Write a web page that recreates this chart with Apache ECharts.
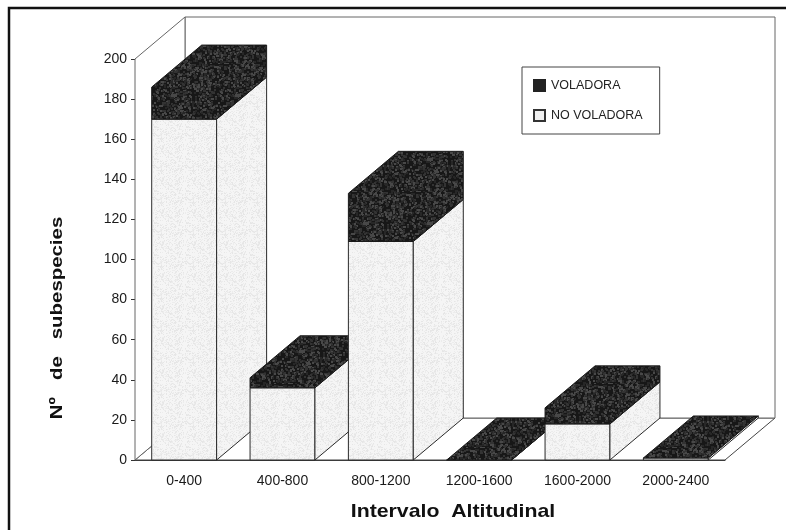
<!DOCTYPE html>
<html>
<head>
<meta charset="utf-8">
<title>Subespecies por intervalo altitudinal</title>
<script src="https://cdn.jsdelivr.net/npm/echarts@6/dist/echarts.min.js"></script>
<style>
  html, body { margin: 0; padding: 0; background: #fff; }
  #main { width: 786px; height: 530px; filter: blur(0.5px); }
</style>
</head>
<body>
<div id="main"></div>
<script>
var categories = ['0-400', '400-800', '800-1200', '1200-1600', '1600-2000', '2000-2400'];
var noVoladora = [170, 36, 109, 0, 18, 1];
var voladora = [16, 5, 24, 0, 8, 0];

// proyeccion de la profundidad, en pixeles
var depthX = 50;
var depthY = -42;
var barRatio = 0.66;

// tramas para imitar el papel escaneado
function makeTexture(size, base, spots, step, dot) {
  var c = document.createElement('canvas');
  c.width = c.height = size;
  var ctx = c.getContext('2d');
  ctx.fillStyle = base;
  ctx.fillRect(0, 0, size, size);
  for (var y = 0; y < size; y++) {
    for (var x = 0; x < size; x++) {
      var h = Math.abs(Math.sin(x * 12.9898 + y * 78.233) * 43758.5453) % 1;
      if (h < step) {
        ctx.fillStyle = spots[Math.floor(h / step * spots.length)];
        ctx.fillRect(x, y, dot, dot);
      }
    }
  }
  return c;
}
var darkFill = { image: makeTexture(64, '#171717', ['#333333', '#484848', '#272727'], 0.2, 2), repeat: 'repeat' };
var lightFill = { image: makeTexture(32, '#f5f5f5', ['#ececec', '#e6e6e6'], 0.35, 1), repeat: 'repeat' };

function poly(points, fill, stroke, z2) {
  return {
    type: 'polygon',
    z2: z2,
    shape: { points: points },
    style: { fill: fill, stroke: stroke, lineWidth: 1 }
  };
}

function boxPoints(params, api) {
  var i = api.value(0);
  var bottom = api.coord([i, api.value(1)]);
  var top = api.coord([i, api.value(2)]);
  var w = api.size([1, 0])[0] * barRatio;
  return {
    i: i,
    x0: bottom[0] - w / 2,
    x1: bottom[0] + w / 2,
    yb: bottom[1],
    yt: top[1]
  };
}

// parte clara: cara frontal y cara lateral
function renderLight(params, api) {
  var b = boxPoints(params, api);
  var z2 = b.i * 10;
  return {
    type: 'group',
    children: [
      poly([[b.x0, b.yb], [b.x1, b.yb], [b.x1, b.yt], [b.x0, b.yt]], lightFill, '#2a2a2a', z2),
      poly([[b.x1, b.yb], [b.x1 + depthX, b.yb + depthY], [b.x1 + depthX, b.yt + depthY], [b.x1, b.yt]], lightFill, '#2a2a2a', z2)
    ]
  };
}

// parte oscura: en el original no se distinguen las caras, es una sola silueta
function renderDark(params, api) {
  var b = boxPoints(params, api);
  return poly([
    [b.x0, b.yb], [b.x1, b.yb], [b.x1 + depthX, b.yb + depthY],
    [b.x1 + depthX, b.yt + depthY], [b.x0 + depthX, b.yt + depthY], [b.x0, b.yt]
  ], darkFill, '#1a1a1a', b.i * 10 + 1);
}

function renderWalls(params) {
  var g = params.coordSys;
  var l = g.x, r = g.x + g.width, t = g.y, b = g.y + g.height;
  var line = '#666';
  return {
    type: 'group',
    children: [
      poly([[l, b], [r, b], [r + depthX, b + depthY], [l + depthX, b + depthY]], '#fff', '#444', 0),
      poly([[l + depthX, b + depthY], [l + depthX, t + depthY], [r + depthX, t + depthY], [r + depthX, b + depthY]], '#fff', line, 0),
      poly([[l, b], [l, t], [l + depthX, t + depthY], [l + depthX, b + depthY]], '#fff', line, 0)
    ]
  };
}

var myChart = echarts.init(document.getElementById('main'), null, { renderer: 'canvas' });

var noVolData = categories.map(function (c, i) { return [i, 0, noVoladora[i]]; });
var volData = categories.map(function (c, i) { return [i, noVoladora[i], noVoladora[i] + voladora[i]]; });

var font = '"Liberation Sans", Arial, sans-serif';

var option = {
  animation: false,
  backgroundColor: '#fff',
  grid: { left: 135, right: 61, top: 59, bottom: 70 },
  legend: {
    data: ['VOLADORA', 'NO VOLADORA'],
    orient: 'vertical',
    left: 522,
    top: 67,
    padding: [12, 17, 12, 11],
    itemWidth: 11,
    itemHeight: 11,
    itemGap: 17,
    icon: 'rect',
    backgroundColor: '#fff',
    borderColor: '#444',
    borderWidth: 1,
    textStyle: { fontFamily: font, fontSize: 12.5, color: '#222', padding: [0, 0, 0, 1] }
  },
  xAxis: {
    type: 'category',
    data: categories,
    axisLine: { lineStyle: { color: '#333' } },
    axisTick: { length: 4, lineStyle: { color: '#333' } },
    axisLabel: { fontFamily: font, fontSize: 14, color: '#1a1a1a', margin: 14, interval: 0 }
  },
  yAxis: {
    type: 'value',
    min: 0,
    max: 200,
    interval: 20,
    axisLine: { show: true, lineStyle: { color: '#444' } },
    axisTick: { show: true, length: 4, lineStyle: { color: '#333' } },
    axisLabel: { fontFamily: font, fontSize: 14, color: '#1a1a1a', margin: 8 },
    splitLine: { show: false }
  },
  series: [
    {
      name: 'paredes',
      type: 'custom',
      z: 1,
      silent: true,
      clip: false,
      data: [[0, 0, 0]],
      renderItem: renderWalls
    },
    {
      name: 'NO VOLADORA',
      type: 'custom',
      clip: false,
      itemStyle: { color: '#f0f0f0', borderColor: '#333', borderWidth: 1 },
      data: noVolData,
      renderItem: renderLight
    },
    {
      name: 'VOLADORA',
      type: 'custom',
      clip: false,
      itemStyle: { color: '#222', borderColor: '#222', borderWidth: 1 },
      data: volData,
      renderItem: renderDark
    }
  ],
  graphic: [
    {
      type: 'polyline',
      z: 10,
      shape: { points: [[9, 530], [9, 8], [786, 8]] },
      style: { fill: null, stroke: '#111', lineWidth: 2.5 }
    },
    {
      type: 'text',
      z: 10,
      x: 453,
      y: 512,
      scaleX: 1.12,
      style: { text: 'Intervalo  Altitudinal', font: 'bold 19px ' + font, fill: '#111', align: 'center', verticalAlign: 'middle' }
    },
    {
      type: 'text',
      z: 10,
      x: 57,
      y: 318,
      rotation: Math.PI / 2,
      scaleX: 1.2,
      style: { text: 'Nº   de   subespecies', font: 'bold 17px ' + font, fill: '#111', align: 'center', verticalAlign: 'middle' }
    }
  ]
};

myChart.setOption(option);
</script>
</body>
</html>
